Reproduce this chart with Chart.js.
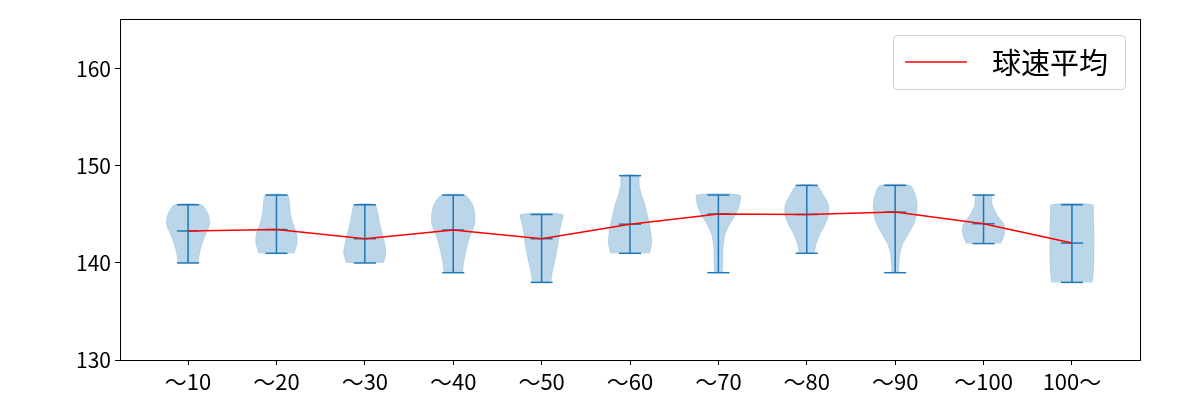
<!DOCTYPE html>
<html lang="ja">
<head>
<meta charset="UTF-8">
<title>球速平均</title>
<script src="https://cdn.jsdelivr.net/npm/chart.js@4.4.1/dist/chart.umd.min.js"></script>
<style>
    body { margin: 0; background: #fff; }
    .wrap { width: 1200px; height: 400px; }
</style>
</head>
<body>
<div class="wrap"><canvas id="violinChart"></canvas></div>
<script>
    // values
    const categories = ['～10', '～20', '～30', '～40', '～50', '～60', '～70', '～80', '～90', '～100', '100～'];
    const speedMean = [143.3, 143.45, 142.5, 143.4, 142.5, 144.0, 145.05, 145.0, 145.25, 144.05, 142.05];
    const speedMin = [140, 141, 140, 139, 138, 141, 139, 141, 139, 142, 138];
    const speedMax = [146, 147, 146, 147, 145, 149, 147, 148, 148, 147, 146];
    // relative violin width at each whole km/h, from min up to max
    const density = [
        [0.45, 0.52, 0.64, 0.80, 0.98, 0.92, 0.60],
        [0.80, 0.93, 0.92, 0.76, 0.64, 0.60, 0.50],
        [0.84, 0.96, 0.90, 0.80, 0.68, 0.60, 0.46],
        [0.42, 0.47, 0.56, 0.66, 0.80, 0.97, 0.98, 0.88, 0.53],
        [0.42, 0.48, 0.58, 0.67, 0.75, 0.80, 0.88, 0.95],
        [0.88, 0.98, 0.95, 0.88, 0.78, 0.68, 0.53, 0.42, 0.38],
        [0.18, 0.20, 0.20, 0.23, 0.31, 0.52, 0.78, 0.96, 0.97],
        [0.34, 0.43, 0.60, 0.84, 0.99, 0.98, 0.76, 0.45],
        [0.15, 0.18, 0.22, 0.35, 0.60, 0.84, 0.97, 0.99, 0.92, 0.68],
        [0.78, 0.95, 0.92, 0.60, 0.40, 0.33],
        [0.92, 0.97, 0.99, 1.00, 1.00, 1.00, 0.99, 0.97, 0.93]
    ];
    const yTicks = [130, 140, 150, 160];
    const meanLabel = '球速平均';

    const blue = '#1f77b4';
    const halfWidth = 0.25;   // violin width 0.5
    const capWidth = 0.125;
    const fontFamily = '"Noto Sans CJK JP", "Noto Sans", sans-serif';

    const datasets = [];

    // violin bodies
    categories.forEach((c, i) => {
        const pos = i + 1;
        const d = density[i];
        const step = (speedMax[i] - speedMin[i]) / (d.length - 1);
        const left = d.map((w, k) => ({x: pos - w * halfWidth, y: speedMin[i] + k * step}));
        const right = d.map((w, k) => ({x: pos + w * halfWidth, y: speedMin[i] + k * step})).reverse();
        datasets.push({
            type: 'line',
            data: left.concat(right),
            fill: 'shape',
            backgroundColor: 'rgba(31,119,180,0.3)',
            borderColor: 'rgba(31,119,180,0.15)',
            borderWidth: 1,
            pointRadius: 0,
            tension: 0.25,
            order: 3
        });
    });

    // min / max caps, vertical bars and mean ticks
    function segment(points) {
        return {
            type: 'line',
            data: points,
            borderColor: blue,
            borderWidth: 1.5,
            pointRadius: 0,
            fill: false,
            order: 2
        };
    }
    categories.forEach((c, i) => {
        const pos = i + 1;
        datasets.push(segment([{x: pos - capWidth, y: speedMax[i]}, {x: pos + capWidth, y: speedMax[i]}]));
        datasets.push(segment([{x: pos - capWidth, y: speedMin[i]}, {x: pos + capWidth, y: speedMin[i]}]));
        datasets.push(segment([{x: pos, y: speedMin[i]}, {x: pos, y: speedMax[i]}]));
        datasets.push(segment([{x: pos - capWidth, y: speedMean[i]}, {x: pos + capWidth, y: speedMean[i]}]));
    });

    // mean line
    datasets.push({
        type: 'line',
        label: meanLabel,
        data: speedMean.map((v, i) => ({x: i + 1, y: v})),
        borderColor: '#ff0000',
        borderWidth: 1.5,
        pointRadius: 0,
        fill: false,
        tension: 0,
        order: 1
    });

    // box around the plot area
    const frame = {
        id: 'frame',
        afterDatasetsDraw(chart) {
            const a = chart.chartArea;
            const ctx = chart.ctx;
            ctx.save();
            ctx.strokeStyle = '#000';
            ctx.lineWidth = 1;
            ctx.strokeRect(a.left + 0.5, a.top + 0.5, a.right - a.left, a.bottom - a.top);
            ctx.restore();
        }
    };

    // matplotlib-like legend inside the plot, upper right
    const boxLegend = {
        id: 'boxLegend',
        afterDraw(chart) {
            const a = chart.chartArea;
            const ctx = chart.ctx;
            const ds = chart.data.datasets.find(d => d.label);
            const w = 232, h = 54;
            const x = a.right - 15 - w, y = a.top + 16;
            ctx.save();
            ctx.beginPath();
            ctx.roundRect(x + 0.5, y + 0.5, w, h, 4);
            ctx.fillStyle = 'rgba(255,255,255,0.8)';
            ctx.fill();
            ctx.strokeStyle = '#d0d0d0';
            ctx.lineWidth = 1;
            ctx.stroke();
            const cy = y + h / 2;
            ctx.beginPath();
            ctx.moveTo(x + 12, cy);
            ctx.lineTo(x + 74, cy);
            ctx.strokeStyle = ds.borderColor;
            ctx.lineWidth = ds.borderWidth;
            ctx.stroke();
            ctx.fillStyle = '#000';
            ctx.font = '29px ' + fontFamily;
            ctx.textBaseline = 'middle';
            ctx.fillText(ds.label, x + 99, cy + 1);
            ctx.restore();
        }
    };

    new Chart(document.getElementById('violinChart').getContext('2d'), {
        type: 'line',
        data: {datasets: datasets},
        options: {
            responsive: true,
            maintainAspectRatio: false,
            animation: false,
            layout: {padding: {top: 19, right: 60, left: 0, bottom: 0}},
            plugins: {
                legend: {display: false},
                tooltip: {enabled: false}
            },
            scales: {
                x: {
                    type: 'linear',
                    min: 0.23,
                    max: 11.77,
                    afterBuildTicks: s => { s.ticks = categories.map((c, i) => ({value: i + 1})); },
                    afterFit: s => { s.height = 40; },
                    grid: {drawOnChartArea: false, drawTicks: true, tickLength: 5, color: '#000'},
                    border: {display: true, color: '#000'},
                    ticks: {
                        color: '#000',
                        padding: 3,
                        maxRotation: 0,
                        autoSkip: false,
                        font: {family: fontFamily, size: 22},
                        callback: v => categories[v - 1]
                    }
                },
                y: {
                    type: 'linear',
                    min: 130,
                    max: 165.15,
                    afterBuildTicks: s => { s.ticks = yTicks.map(v => ({value: v})); },
                    afterFit: s => { s.width = 120; },
                    grid: {drawOnChartArea: false, drawTicks: true, tickLength: 5, color: '#000'},
                    border: {display: true, color: '#000'},
                    ticks: {
                        color: '#000',
                        padding: 4,
                        font: {family: fontFamily, size: 21}
                    }
                }
            }
        },
        plugins: [frame, boxLegend]
    });
</script>
</body>
</html>
